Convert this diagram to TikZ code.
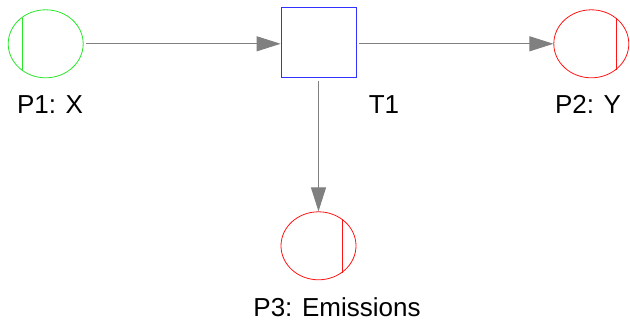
\documentclass[tikz,border=0pt]{standalone}
\usepackage{fontspec}
\setmainfont{Liberation Sans}
\usetikzlibrary{shapes.geometric,arrows.meta}
\definecolor{placegreen}{RGB}{40,230,40}
\definecolor{placered}{RGB}{255,20,20}
\definecolor{transblue}{RGB}{50,50,255}
\definecolor{arcgray}{RGB}{128,128,128}
\tikzset{
  place/.style={ellipse, draw, line width=0.8pt, minimum width=75pt, minimum height=68pt, inner sep=0pt},
  trans/.style={rectangle, draw=transblue, line width=0.8pt, minimum width=75pt, minimum height=70pt, inner sep=0pt},
  arc/.style={draw=arcgray, line width=1pt, -{Triangle[length=24pt,width=15pt]}, arcgray},
  lbl/.style={anchor=base, inner sep=0pt, font=\fontsize{26}{31}\selectfont}
}
\begin{document}
\begin{tikzpicture}[x=1pt, y=-1pt]
\useasboundingbox (0,0) rectangle (630,323);
\node[place, draw=placegreen] (P1) at (45.7,43.8) {};
\node[trans] (T1) at (318.5,42.5) {};
\node[place, draw=placered] (P2) at (591.3,43.8) {};
\node[place, draw=placered] (P3) at (318.5,245.8) {};

% token marks
\draw[placegreen, line width=0.8pt] (P1.center) ++(-23.4,-26) -- ++(0,52);
\draw[placered, line width=0.8pt] (P2.center) ++(25.4,-26) -- ++(0,52);
\draw[placered, line width=0.8pt] (P3.center) ++(24,-27) -- ++(0,54);

\node[lbl] (P1lbl) at (50,114) {P1: X};
\node[lbl] (T1lbl) at (384,114) {T1};
\node[lbl] (P2lbl) at (588,114) {P2: Y};
\node[lbl] (P3lbl) at (337,316.7) {P3: Emissions};

\draw[arc, shorten <=2pt] (P1.east) -- (P1.east -| T1.west);
\draw[arc, shorten <=3pt] (P2.west -| T1.east) -- (P2.west);
\draw[arc, shorten <=3pt] (T1.south) -- (T1.south |- P3.north);
\end{tikzpicture}
\end{document}
